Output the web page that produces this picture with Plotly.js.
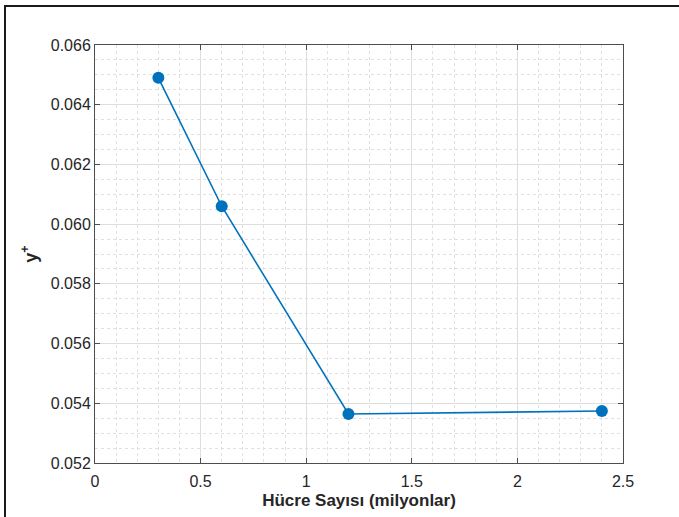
<!DOCTYPE html>
<html>
<head>
<meta charset="utf-8">
<script src="https://cdn.plot.ly/plotly-3.0.1.min.js"></script>
<style>
  html, body { margin: 0; padding: 0; background: #fff; }
  #wrap { position: relative; width: 679px; height: 517px; overflow: hidden; }
  #chart { position: absolute; left: 0; top: 0; width: 679px; height: 517px; }
  #frame { position: absolute; left: 4px; top: 5px; width: 700px; height: 600px;
           border-left: 2px solid #1a1a1a; border-top: 2px solid #1a1a1a; pointer-events: none; }
</style>
</head>
<body>
<div id="wrap">
  <div id="chart"></div>
  <div id="frame"></div>
</div>
<script>
// Mesh size (million cells) vs. y+
const cellCounts = [0.3, 0.6, 1.2, 2.4];
const yPlus = [0.0649, 0.0606, 0.05364, 0.05374];
const xTickVals = [0, 0.5, 1, 1.5, 2, 2.5];
const xTickText = ['0', '0.5', '1', '1.5', '2', '2.5'];
const yTickVals = [0.052, 0.054, 0.056, 0.058, 0.060, 0.062, 0.064, 0.066];
const yTickText = ['0.052', '0.054', '0.056', '0.058', '0.060', '0.062', '0.064', '0.066'];

const axisColor = '#4d4d4d';
const font = 'Liberation Sans, Arial, Helvetica, sans-serif';

const trace = {
  x: cellCounts,
  y: yPlus,
  type: 'scatter',
  mode: 'lines+markers',
  line: { color: '#0072BD', width: 1.6 },
  marker: { color: '#0072BD', size: 12 },
  hoverinfo: 'x+y'
};

const layout = {
  width: 679,
  height: 517,
  margin: { l: 95, r: 56, t: 45, b: 54 },
  paper_bgcolor: '#ffffff',
  plot_bgcolor: '#ffffff',
  showlegend: false,
  font: { family: font, size: 16, color: '#262626' },
  xaxis: {
    range: [0, 2.5],
    tickvals: xTickVals,
    ticktext: xTickText,
    ticks: 'inside',
    ticklen: 5,
    tickcolor: axisColor,
    ticklabelstandoff: 4,
    showline: true,
    linecolor: axisColor,
    linewidth: 1,
    mirror: 'ticks',
    showgrid: true,
    gridcolor: '#dedede',
    gridwidth: 1,
    zeroline: false,
    tickfont: { family: font, size: 16, color: '#262626' },
    minor: { dtick: 0.1, tick0: 0, showgrid: true, gridcolor: '#e0e0e0', griddash: 'dot', gridwidth: 1 },
    title: { text: '<b>Hücre Sayısı (milyonlar)</b>', font: { family: font, size: 17, color: '#262626' }, standoff: 4 }
  },
  yaxis: {
    range: [0.052, 0.066],
    tickvals: yTickVals,
    ticktext: yTickText,
    ticks: 'inside',
    ticklen: 5,
    tickcolor: axisColor,
    showline: true,
    linecolor: axisColor,
    linewidth: 1,
    mirror: 'ticks',
    showgrid: true,
    gridcolor: '#dedede',
    gridwidth: 1,
    zeroline: false,
    tickfont: { family: font, size: 16, color: '#262626' },
    minor: { dtick: 0.0005, tick0: 0.052, showgrid: true, gridcolor: '#e0e0e0', griddash: 'dot', gridwidth: 1 },
    title: { text: '<b>y<sup>+</sup></b>', font: { family: font, size: 18, color: '#262626' }, standoff: 8 }
  }
};

Plotly.newPlot('chart', [trace], layout, { staticPlot: true, displayModeBar: false });
</script>
</body>
</html>
